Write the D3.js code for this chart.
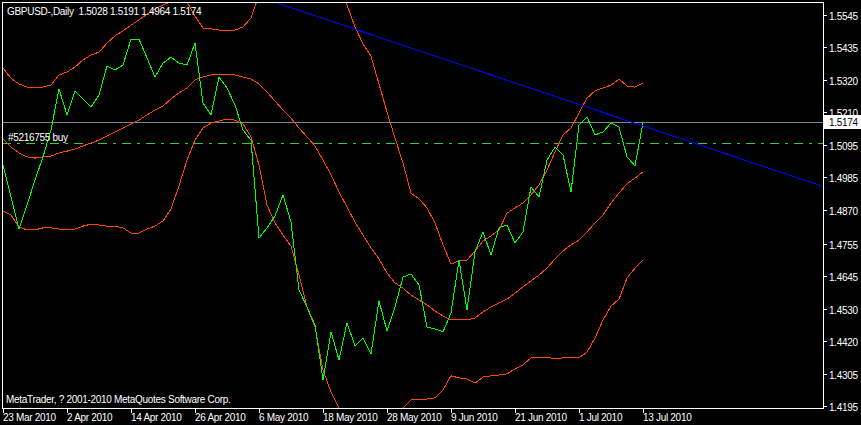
<!DOCTYPE html>
<html><head><meta charset="utf-8">
<script src="https://cdn.jsdelivr.net/npm/d3@7"></script>
<style>
html,body{margin:0;padding:0;background:#000;}
svg{display:block;}
text{font-family:"Liberation Sans",Arial,sans-serif;font-size:10px;fill:#fff;letter-spacing:-0.3px;}
</style></head><body>
<svg id="chart" width="861" height="425"></svg>
<script>
// ---- data (bar index 0 = 23 Mar 2010, daily trading bars) ----
const closes = [1.5027,1.4917,1.4806,1.4889,1.4975,1.5055,1.5148,1.5290,1.5200,1.5283,
 1.5255,1.5227,1.5269,1.5369,1.5355,1.5372,1.5462,1.5462,1.5397,1.5331,
 1.5379,1.5400,1.5379,1.5372,1.5448,1.5241,1.5200,1.5331,1.5293,1.5234,
 1.5148,1.5113,1.4775,1.4810,1.4851,1.4924,1.4830,1.4596,1.4537,1.4475,
 1.4285,1.4451,1.4354,1.4482,1.4402,1.4430,1.4375,1.4558,1.4454,1.4537,
 1.4640,1.4651,1.4613,1.4468,1.4461,1.4451,1.4516,1.4699,1.4527,1.4727,
 1.4796,1.4716,1.4810,1.4820,1.4758,1.4796,1.4951,1.4917,1.5044,1.5089,
 1.5062,1.4934,1.5165,1.5193,1.5131,1.5141,1.5172,1.5158,1.5055,1.5024,
 1.5174];
const upperBand = [1.5362,1.5327,1.5307,1.5296,1.5296,1.5296,1.5303,1.5338,1.5348,1.5365,
 1.5390,1.5407,1.5417,1.5448,1.5473,1.5490,1.5510,1.5528,1.5548,1.5566,
 1.5580,1.5590,1.5604,1.5590,1.5542,1.5500,1.5497,1.5493,1.5493,1.5493,
 1.5504,1.5535,1.5614,1.5666,1.5700,1.5718,1.5735,1.5769,1.5804,1.5787,
 1.5769,1.5718,1.5649,1.5580,1.5504,1.5445,1.5403,1.5307,1.5210,1.5120,
 1.5034,1.4930,1.4910,1.4879,1.4827,1.4751,1.4685,1.4696,1.4699,1.4730,
 1.4765,1.4782,1.4803,1.4861,1.4879,1.4896,1.4924,1.4958,1.5010,1.5072,
 1.5131,1.5155,1.5207,1.5258,1.5283,1.5293,1.5303,1.5324,1.5300,1.5296,
 1.5310];
const middleBand = [1.5117,1.5089,1.5069,1.5055,1.5051,1.5055,1.5058,1.5069,1.5075,1.5082,
 1.5093,1.5103,1.5113,1.5127,1.5141,1.5155,1.5169,1.5182,1.5200,1.5217,
 1.5231,1.5255,1.5276,1.5293,1.5321,1.5331,1.5338,1.5341,1.5341,1.5338,
 1.5331,1.5324,1.5307,1.5279,1.5248,1.5217,1.5189,1.5155,1.5124,1.5093,
 1.5044,1.4993,1.4934,1.4882,1.4830,1.4785,1.4741,1.4703,1.4654,1.4620,
 1.4602,1.4578,1.4561,1.4544,1.4523,1.4506,1.4492,1.4492,1.4492,1.4499,
 1.4520,1.4537,1.4551,1.4564,1.4585,1.4606,1.4627,1.4647,1.4671,1.4703,
 1.4730,1.4751,1.4768,1.4796,1.4827,1.4854,1.4896,1.4930,1.4962,1.4982,
 1.5003];
const lowerBand = [1.4868,1.4854,1.4813,1.4803,1.4803,1.4810,1.4810,1.4806,1.4806,1.4806,
 1.4816,1.4823,1.4820,1.4816,1.4816,1.4810,1.4792,1.4792,1.4806,1.4816,
 1.4834,1.4875,1.4955,1.5044,1.5113,1.5155,1.5172,1.5179,1.5186,1.5182,
 1.5169,1.5124,1.5027,1.4889,1.4827,1.4785,1.4747,1.4647,1.4537,1.4468,
 1.4319,1.4243,1.4188,1.4112,1.4060,1.4026,1.4009,1.4026,1.4078,1.4147,
 1.4188,1.4216,1.4219,1.4219,1.4223,1.4250,1.4299,1.4292,1.4288,1.4274,
 1.4295,1.4299,1.4302,1.4306,1.4323,1.4337,1.4361,1.4364,1.4364,1.4357,
 1.4361,1.4364,1.4361,1.4381,1.4430,1.4492,1.4540,1.4564,1.4637,1.4671,
 1.4699];
const yTickValues = [1.5545,1.5435,1.5320,1.5210,1.5095,1.4985,1.4870,1.4755,1.4645,1.4530,1.4420,1.4305,1.4195];
const xTickIndex = [0,8,16,24,32,40,48,56,64,72,80];
const xTickLabels = ["23 Mar 2010","2 Apr 2010","14 Apr 2010","26 Apr 2010","6 May 2010","18 May 2010","28 May 2010","9 Jun 2010","21 Jun 2010","1 Jul 2010","13 Jul 2010"];
const bidPrice = 1.5174;
const orderPrice = 1.5102;
const orderLabel = "#5216755 buy";
const trendIndex = [34, 80];
const trendPrice = [1.5589, 1.5162];
const headerText = "GBPUSD-,Daily  1.5028 1.5191 1.4964 1.5174";
const copyrightText = "MetaTrader, ? 2001-2010 MetaQuotes Software Corp.";

// ---- layout ----
const W = 861, H = 425;
const plot = {left: 2, top: 2, right: 823, bottom: 408};
const svg = d3.select("#chart");
svg.append("rect").attr("width", W).attr("height", H).attr("fill", "#000");

const x = d3.scaleLinear().domain([0, 80]).range([3, 643]);
const y = d3.scaleLinear().domain([1.4195, 1.5545]).range([406, 15]);

svg.append("clipPath").attr("id", "clip").append("rect")
  .attr("x", plot.left + 1).attr("y", plot.top + 1)
  .attr("width", plot.right - plot.left - 1).attr("height", plot.bottom - plot.top - 1);
const g = svg.append("g").attr("clip-path", "url(#clip)");

const line = d3.line().x((d, i) => x(i)).y(d => y(d));

// bid line
g.append("line").attr("x1", plot.left).attr("x2", plot.right)
  .attr("y1", Math.round(y(bidPrice)) + 0.5).attr("y2", Math.round(y(bidPrice)) + 0.5)
  .attr("stroke", "#778899").attr("stroke-width", 1);
// order line (dash-dot)
g.append("line").attr("x1", plot.left).attr("x2", plot.right)
  .attr("y1", Math.round(y(orderPrice)) + 0.5).attr("y2", Math.round(y(orderPrice)) + 0.5)
  .attr("stroke", "#32CD32").attr("stroke-width", 1).attr("stroke-dasharray", "9,6,3,6");

// bands
[upperBand, middleBand, lowerBand].forEach(band => {
  g.append("path").attr("d", line(band)).attr("fill", "none")
    .attr("stroke", "#FF4500").attr("stroke-width", 1).attr("shape-rendering", "crispEdges");
});
// close line
g.append("path").attr("d", line(closes)).attr("fill", "none")
  .attr("stroke", "#00FF00").attr("stroke-width", 1).attr("shape-rendering", "crispEdges");

// trend line (ray to the right edge)
const slope = (trendPrice[1] - trendPrice[0]) / (trendIndex[1] - trendIndex[0]);
const iLeft = 30, iRight = x.invert(plot.right);
g.append("line")
  .attr("x1", x(iLeft)).attr("y1", y(trendPrice[0] + slope * (iLeft - trendIndex[0])))
  .attr("x2", x(iRight)).attr("y2", y(trendPrice[0] + slope * (iRight - trendIndex[0])))
  .attr("stroke", "#0000FF").attr("stroke-width", 1).attr("shape-rendering", "crispEdges");

// frame
svg.append("rect").attr("x", plot.left + 0.5).attr("y", plot.top + 0.5)
  .attr("width", plot.right - plot.left).attr("height", plot.bottom - plot.top)
  .attr("fill", "none").attr("stroke", "#fff").attr("stroke-width", 1);

// right price axis
yTickValues.forEach(v => {
  const yy = Math.round(y(v)) + 0.5;
  svg.append("line").attr("x1", plot.right + 1).attr("x2", plot.right + 4)
    .attr("y1", yy).attr("y2", yy).attr("stroke", "#fff");
  svg.append("text").attr("x", plot.right + 6).attr("y", yy + 4).text(v.toFixed(4));
});
// bid price label box
const by = Math.round(y(bidPrice));
svg.append("rect").attr("x", plot.right + 1).attr("y", by - 7).attr("width", W - plot.right - 1).attr("height", 14).attr("fill", "#fff");
svg.append("text").attr("x", plot.right + 6).attr("y", by + 4).style("fill", "#000").text(bidPrice.toFixed(4));

// bottom time axis
xTickIndex.forEach((ix, k) => {
  const xx = Math.round(x(ix)) + 0.5;
  svg.append("line").attr("x1", xx).attr("x2", xx).attr("y1", plot.bottom + 1).attr("y2", plot.bottom + 5).attr("stroke", "#fff");
  svg.append("text").attr("x", xx - 0.5).attr("y", 421).text(xTickLabels[k]);
});

// texts
svg.append("text").attr("x", 7).attr("y", 15).attr("xml:space", "preserve").style("white-space", "pre").text(headerText);
svg.append("text").attr("x", 8).attr("y", 141).text(orderLabel);
svg.append("text").attr("x", 6).attr("y", 403).text(copyrightText);
</script>
</body></html>
